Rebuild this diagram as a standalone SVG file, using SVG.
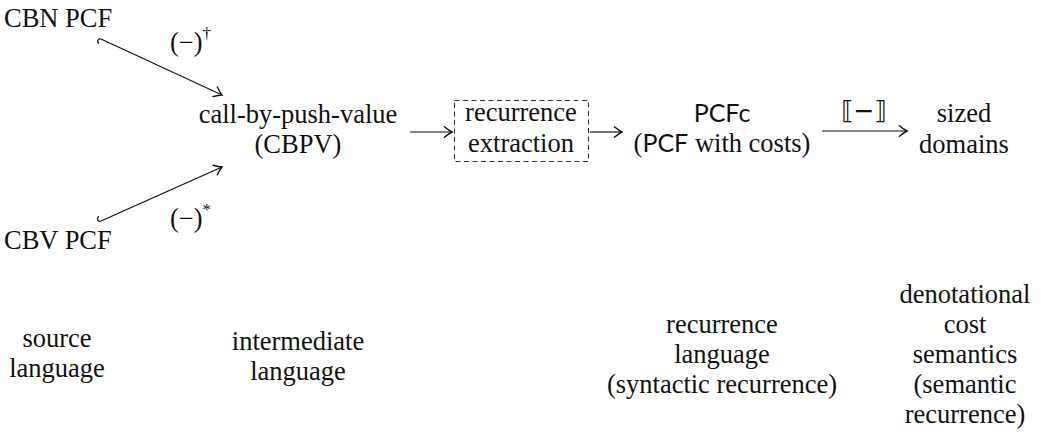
<svg xmlns="http://www.w3.org/2000/svg" width="1045" height="437" viewBox="0 0 1045 437">
<style>
text{font-family:"Liberation Serif","Times New Roman",serif;font-size:26.5px;fill:#111}
.c{text-anchor:middle}
.sf{font-family:Lato,"Liberation Sans",sans-serif;font-size:25px}
.sup{font-size:17px}
.br{font-family:"DejaVu Sans","Liberation Serif",serif;font-size:25px}
.ln{fill:none;stroke:#111;stroke-width:1.2}
</style>
<defs>
<marker id="to" markerUnits="userSpaceOnUse" markerWidth="14" markerHeight="14" viewBox="-8 -6 10 12" refX="0" refY="0" orient="auto">
<path d="M-6.5 -4.5 Q-2.5 -1.2 0 0 Q-2.5 1.2 -6.5 4.5" fill="none" stroke="#111" stroke-width="1.2" stroke-linecap="round"/>
</marker>
</defs>
<g id="cbn"><text x="4" y="27">CBN PCF</text></g>
<g id="cbv"><text x="4" y="249">CBV PCF</text></g>
<g id="cbpv"><text class="c" x="298" y="123">call-by-push-value</text><text class="c" x="298" y="153">(CBPV)</text></g>
<g id="extraction"><rect x="454.5" y="100.5" width="134" height="61" fill="none" stroke="#333" stroke-width="1.1" stroke-dasharray="5 3.5"/><text class="c" x="521" y="121">recurrence</text><text class="c" x="521" y="152">extraction</text></g>
<g id="pcfc"><text class="c sf" x="722" y="122">PCFc</text><text class="c" x="722" y="152">(<tspan class="sf">PCF</tspan> with costs)</text></g>
<g id="sized"><text class="c" x="964" y="122">sized</text><text class="c" x="964" y="153">domains</text></g>
<g id="src"><text class="c" x="57" y="347">source</text><text class="c" x="57" y="377">language</text></g>
<g id="inter"><text class="c" x="298" y="350">intermediate</text><text class="c" x="298" y="380">language</text></g>
<g id="rec"><text class="c" x="722" y="333">recurrence</text><text class="c" x="722" y="363">language</text><text class="c" x="722" y="393">(syntactic recurrence)</text></g>
<g id="den"><text class="c" x="965" y="303">denotational</text><text class="c" x="965" y="333">cost</text><text class="c" x="965" y="363">semantics</text><text class="c" x="965" y="393">(semantic</text><text class="c" x="965" y="423">recurrence)</text></g>
<g id="connectors">
<path class="ln" d="M98.9 43.5 A2.5 2.5 0 0 1 101 39 L222 95" marker-end="url(#to)"/>
<path class="ln" d="M99 216.4 A2.5 2.5 0 0 0 101 221 L222 167" marker-end="url(#to)"/>
<path class="ln" d="M410 132 H452" marker-end="url(#to)"/>
<path class="ln" d="M590 132 H622" marker-end="url(#to)"/>
<path class="ln" d="M822 131 H907" marker-end="url(#to)"/>
<text x="170" y="51">(−)<tspan class="sup" dy="-12">†</tspan></text>
<text x="170" y="227">(−)<tspan class="sup" dy="-12">*</tspan></text>
<text class="c br" x="864" y="119">⟦−⟧</text>
</g>
</svg>
